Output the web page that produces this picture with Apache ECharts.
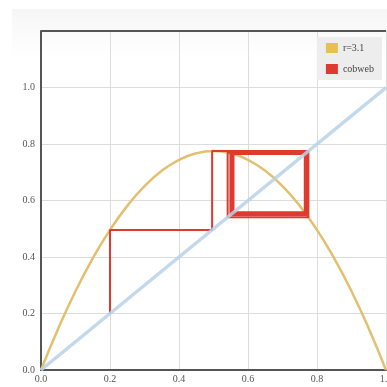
<!DOCTYPE html>
<html><head><meta charset="utf-8">
<script src="https://cdn.jsdelivr.net/npm/echarts@6/dist/echarts.min.js"></script>
<style>html,body{margin:0;padding:0;background:#fff}#c{width:387px;height:387px}</style>
</head><body><div id="c"></div>
<script>
// Parabola points (x, y)
const curveX = [0,0.05,0.1,0.15,0.2,0.25,0.3,0.35,0.4,0.45,0.5,0.55,0.6,0.65,0.7,0.75,0.8,0.85,0.9,0.95,1.0];
const curveY = [0,0.147,0.279,0.395,0.496,0.581,0.651,0.705,0.744,0.767,0.775,0.767,0.744,0.705,0.651,0.581,0.496,0.395,0.279,0.147,0];
// Diagonal y = x endpoints
const diagX = [0, 1];
const diagY = [0, 1];
// Cobweb iterates
const cobwebIterates = [0.2,0.496,0.775,0.541,0.770,0.549,0.767,0.553,0.766,0.555,0.7655,0.5564,0.7651,0.5571,0.7649,0.5575,0.7648,0.5577,0.7647,0.5578,0.7646,0.5579,0.7646,0.5580];
const xTicks = [0,0.2,0.4,0.6,0.8,1.0];
const yTicks = [0,0.2,0.4,0.6,0.8,1.0];

const curveData = curveX.map((x,i)=>[x,curveY[i]]);
const diagData = diagX.map((x,i)=>[x,diagY[i]]);
const cobData = [[cobwebIterates[0], cobwebIterates[0]]];
for (let i=0;i<cobwebIterates.length-1;i++){
  const a = cobwebIterates[i], b = cobwebIterates[i+1];
  cobData.push([a,b]);
  cobData.push([b,b]);
}
const font = 'Liberation Serif';
const chart = echarts.init(document.getElementById('c'), null, {renderer:'canvas'});
chart.setOption({
  animation:false,
  backgroundColor:'#fff',
  graphic:[{type:'rect',left:12,top:9,shape:{width:375,height:50},z:-10,silent:true,
    style:{fill:new echarts.graphic.LinearGradient(0,0,0,1,[{offset:0,color:'#f6f6f6'},{offset:1,color:'#ffffff'}])}}],
  grid:{left:41,right:1,top:31,bottom:17,containLabel:false,outerBoundsMode:'none',show:false},
  legend:{
    data:[{name:'r=3.1'},{name:'cobweb'}],
    orient:'vertical', right:5, top:37,
    backgroundColor:'#ededed', padding:[6,8,6,9],
    itemWidth:12,itemHeight:10,itemGap:11,icon:'rect',
    textStyle:{fontFamily:font,fontSize:10,color:'#444'}
  },
  xAxis:{type:'value',min:0,max:1,interval:0.2,
    axisLine:{show:true,lineStyle:{color:'#555',width:2}},
    axisTick:{show:false},
    axisLabel:{fontFamily:font,fontSize:10,color:'#555',margin:4,formatter:v=>v.toFixed(1)},
    splitLine:{show:true,lineStyle:{color:'#ddd',width:1}}
  },
  yAxis:{type:'value',min:0,max:1.2,interval:0.2,
    axisLine:{show:true,lineStyle:{color:'#555',width:2}},
    axisTick:{show:false},
    axisLabel:{fontFamily:font,fontSize:10,color:'#555',margin:6,formatter:v=>v>1.1?'':v.toFixed(1)},
    splitLine:{show:true,lineStyle:{color:'#ddd',width:1}}
  },
  series:[
    {name:'r=3.1',type:'line',data:curveData,smooth:true,showSymbol:false,
      itemStyle:{color:'#e8c050'},lineStyle:{color:'#e2c070',width:2.5}},
    {name:'cobweb',type:'line',data:cobData,showSymbol:false,
      itemStyle:{color:'#e03a30'},lineStyle:{color:'#e03a30',width:2}},
    {name:'diag',type:'line',data:diagData,showSymbol:false,
      lineStyle:{color:'#b8d2e8',width:3.5,opacity:0.85}},
    {type:'line',data:[[0,1.2],[1,1.2]],showSymbol:false,silent:true,
      lineStyle:{color:'#555',width:2}}
  ]
});
</script></body></html>
